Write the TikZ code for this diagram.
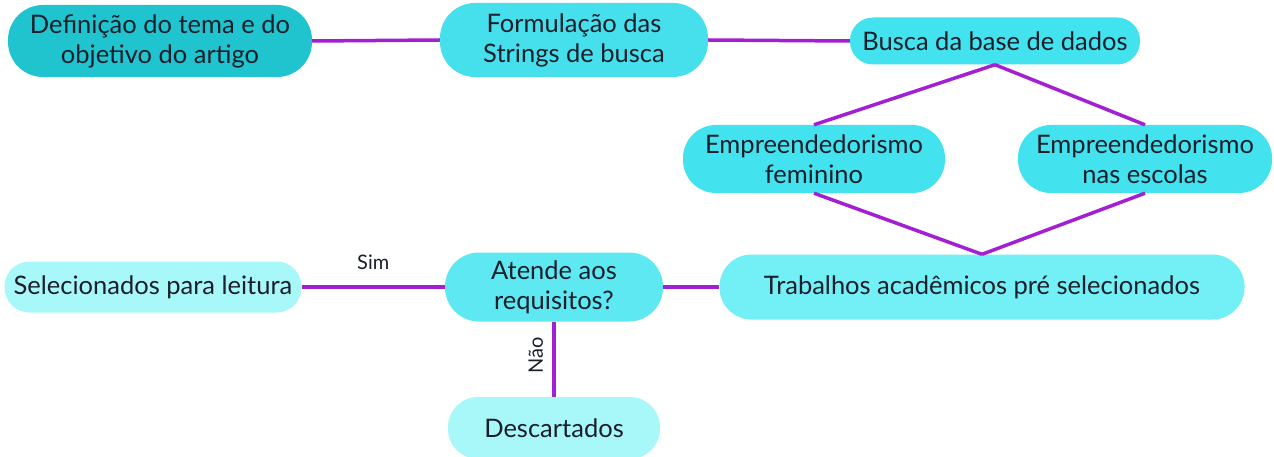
\documentclass[tikz,border=0pt]{standalone}
\usepackage{fontspec}
\setmainfont{Lato}
\definecolor{linec}{HTML}{A31FD3}
\definecolor{txt}{HTML}{1B1F2B}
\definecolor{cdef}{HTML}{1FC4CF}
\definecolor{cform}{HTML}{46E0EC}
\definecolor{cbus}{HTML}{42E2EE}
\definecolor{ctrab}{HTML}{72F0F6}
\definecolor{caten}{HTML}{5EE8F2}
\definecolor{clight}{HTML}{A8F8FA}
\begin{document}
\begin{tikzpicture}[x=1pt,y=-1pt,
  box/.style={rounded corners=35pt, inner sep=0pt, align=center, text=txt,
    font=\fontsize{25.5}{30}\selectfont},
  conn/.style={draw=linec, line width=3.5pt},
  lab/.style={text=txt, font=\fontsize{20}{22}\selectfont}]
\useasboundingbox (0,0) rectangle (1274,457);
\node[box, fill=cdef, minimum width=304pt, minimum height=72pt] (def) at (160,41) {Definição do tema e do\\objetivo do artigo};
\node[box, fill=cform, minimum width=268pt, minimum height=74pt] (form) at (574,40) {Formulação das\\Strings de busca};
\node[box, fill=cbus, minimum width=290pt, minimum height=47pt, rounded corners=23pt] (bus) at (995,41) {Busca da base de dados};
\node[box, fill=cbus, minimum width=262pt, minimum height=68pt, rounded corners=33pt] (empf) at (814,159) {Empreendedorismo\\feminino};
\node[box, fill=cbus, minimum width=254pt, minimum height=68pt, rounded corners=33pt] (empe) at (1145,159) {Empreendedorismo\\nas escolas};
\node[box, fill=ctrab, minimum width=525pt, minimum height=65pt, rounded corners=32pt] (trab) at (982,287) {Trabalhos acadêmicos pré selecionados};
\node[box, fill=caten, minimum width=218pt, minimum height=69pt, rounded corners=34pt] (aten) at (554,287) {Atende aos\\requisitos?};
\node[box, fill=clight, minimum width=297pt, minimum height=51pt, rounded corners=25pt] (sel) at (153,287) {Selecionados para leitura};
\node[box, fill=clight, minimum width=212pt, minimum height=62pt, rounded corners=30pt] (desc) at (554,428) {Descartados};
\draw[conn] (def.east) -- (form.west);
\draw[conn] (form.east) -- (bus.west);
\draw[conn] (bus.south) -- (empf.north);
\draw[conn] (bus.south) -- (empe.north);
\draw[conn] (empf.south) -- (trab.north);
\draw[conn] (empe.south) -- (trab.north);
\draw[conn] (trab.west) -- (aten.east);
\draw[conn] (aten.west) -- node[lab, above=12pt, pos=0.5] (sim) {Sim} (sel.east);
\draw[conn] (aten.south) -- node[lab, rotate=90, anchor=south, yshift=6pt, pos=0.45] (nao) {Não} (desc.north);
\end{tikzpicture}
\end{document}
